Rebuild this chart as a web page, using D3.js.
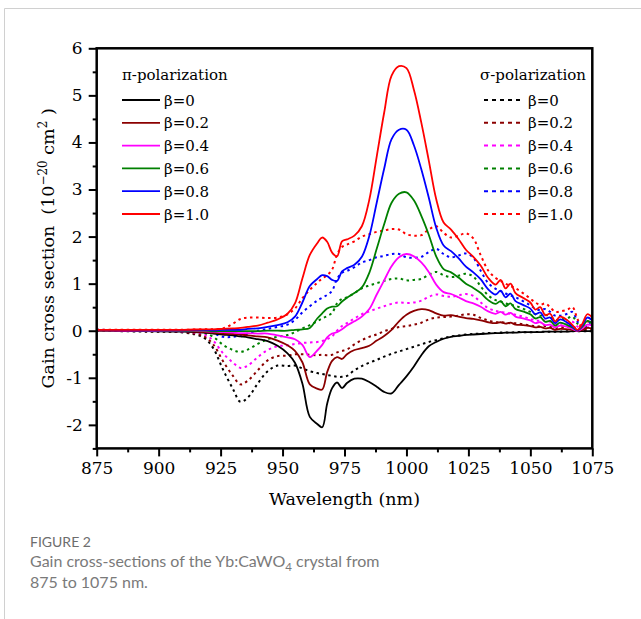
<!DOCTYPE html>
<html>
<head>
<meta charset="utf-8">
<script src="https://cdn.jsdelivr.net/npm/d3@7"></script>
<style>
  body { margin: 0; background: #fff; }
  svg { display: block; }
</style>
</head>
<body>
<svg id="chart" width="641" height="619"></svg>
<script>
// wavelength grid (nm) shared by every curve
const wavelength = [875, 895, 910, 918, 922, 926, 930, 933, 936, 940, 944, 948, 952, 955, 958, 961, 964, 966, 968, 970,
  972, 974, 976, 979, 982, 985, 988, 991, 994, 997, 1000, 1003, 1006, 1009, 1012, 1015, 1018, 1021, 1024, 1027,
  1030, 1033, 1036, 1038, 1040, 1042, 1044, 1047, 1050, 1052, 1054, 1056, 1058, 1060, 1062, 1065, 1067, 1069, 1071, 1073, 1075];

// pi-polarization gain (10^-20 cm^2)
const piB00 = [0, -0.01, -0.02, -0.04, -0.06, -0.08, -0.10, -0.12, -0.14, -0.18, -0.22, -0.32, -0.48, -0.68, -1.12, -1.83, -1.98, -2.05, -1.55, -1.22,
  -1.10, -1.22, -1.11, -1.02, -1.02, -1.09, -1.19, -1.30, -1.33, -1.15, -0.97, -0.76, -0.52, -0.33, -0.24, -0.17, -0.13, -0.11, -0.09, -0.08,
  -0.07, -0.06, -0.05, -0.05, -0.04, -0.04, -0.04, -0.03, -0.03, -0.03, -0.03, -0.02, -0.02, -0.02, -0.02, -0.02, -0.01, -0.01, -0.01, -0.01, -0.01];
const piB02 = [0.00, 0.00, -0.01, -0.03, -0.04, -0.06, -0.07, -0.08, -0.10, -0.12, -0.14, -0.21, -0.31, -0.43, -0.67, -1.14, -1.23, -1.25, -0.88, -0.64,
  -0.56, -0.60, -0.50, -0.41, -0.37, -0.32, -0.21, -0.11, 0.02, 0.20, 0.34, 0.42, 0.46, 0.44, 0.37, 0.32, 0.33, 0.30, 0.27, 0.25,
  0.22, 0.18, 0.16, 0.18, 0.15, 0.17, 0.13, 0.12, 0.10, 0.07, 0.08, 0.05, 0.06, 0.02, 0.04, 0.03, 0.02, 0.00, 0.02, 0.06, 0.05];
const piB04 = [0.01, 0.00, 0.00, -0.01, -0.02, -0.03, -0.04, -0.05, -0.05, -0.06, -0.06, -0.10, -0.14, -0.18, -0.30, -0.56, -0.42, -0.30, -0.14, -0.06,
  -0.03, 0.03, 0.11, 0.20, 0.30, 0.46, 0.77, 1.07, 1.37, 1.56, 1.63, 1.58, 1.45, 1.25, 0.98, 0.82, 0.78, 0.71, 0.63, 0.58,
  0.51, 0.41, 0.36, 0.40, 0.34, 0.38, 0.30, 0.26, 0.22, 0.16, 0.18, 0.12, 0.13, 0.07, 0.11, 0.08, 0.04, 0.00, 0.05, 0.13, 0.11];
const piB06 = [0.01, 0.01, 0.00, 0.00, -0.01, -0.01, -0.01, -0.01, -0.01, -0.01, 0.00, 0.00, 0.00, 0.02, 0.03, 0.06, 0.26, 0.37, 0.47, 0.51,
  0.52, 0.62, 0.70, 0.80, 0.92, 1.23, 1.74, 2.26, 2.72, 2.91, 2.94, 2.77, 2.44, 2.04, 1.58, 1.31, 1.24, 1.13, 1.00, 0.91,
  0.80, 0.65, 0.57, 0.63, 0.52, 0.58, 0.46, 0.41, 0.35, 0.26, 0.29, 0.19, 0.21, 0.11, 0.17, 0.12, 0.07, 0.01, 0.09, 0.21, 0.16];
const piB08 = [0.02, 0.01, 0.01, 0.02, 0.01, 0.02, 0.02, 0.02, 0.04, 0.05, 0.08, 0.12, 0.18, 0.30, 0.60, 0.95, 1.10, 1.18, 1.16, 1.08,
  1.06, 1.26, 1.33, 1.40, 1.57, 2.01, 2.72, 3.44, 4.07, 4.27, 4.27, 3.94, 3.43, 2.83, 2.19, 1.81, 1.69, 1.54, 1.36, 1.24,
  1.09, 0.88, 0.77, 0.85, 0.71, 0.79, 0.63, 0.55, 0.47, 0.35, 0.39, 0.26, 0.28, 0.16, 0.24, 0.17, 0.09, 0.01, 0.12, 0.28, 0.22];
const piB10 = [0.02, 0.02, 0.02, 0.03, 0.03, 0.04, 0.05, 0.06, 0.08, 0.11, 0.17, 0.24, 0.36, 0.58, 1.11, 1.61, 1.86, 1.98, 1.89, 1.66,
  1.58, 1.90, 1.94, 2.02, 2.22, 2.78, 3.70, 4.63, 5.42, 5.62, 5.58, 5.12, 4.42, 3.62, 2.80, 2.30, 2.15, 1.95, 1.72, 1.57,
  1.38, 1.12, 0.98, 1.08, 0.90, 1.00, 0.80, 0.70, 0.60, 0.45, 0.50, 0.33, 0.36, 0.20, 0.30, 0.22, 0.12, 0.02, 0.15, 0.35, 0.28];

// sigma-polarization gain (10^-20 cm^2)
const sgB00 = [0, -0.02, -0.04, -0.14, -0.37, -0.83, -1.24, -1.51, -1.42, -1.12, -0.86, -0.74, -0.75, -0.74, -0.80, -0.86, -0.90, -0.92, -0.94, -0.96,
  -0.98, -0.98, -0.96, -0.84, -0.75, -0.68, -0.62, -0.55, -0.49, -0.44, -0.39, -0.34, -0.29, -0.24, -0.20, -0.16, -0.12, -0.10, -0.08, -0.07,
  -0.06, -0.05, -0.05, -0.04, -0.04, -0.04, -0.03, -0.03, -0.03, -0.03, -0.02, -0.02, -0.02, -0.02, -0.02, -0.01, -0.01, -0.01, -0.01, -0.01, -0.01];
const sgB02 = [0.00, -0.01, -0.03, -0.11, -0.29, -0.65, -0.96, -1.14, -1.06, -0.84, -0.63, -0.54, -0.53, -0.50, -0.50, -0.51, -0.52, -0.51, -0.52, -0.51,
  -0.46, -0.43, -0.40, -0.29, -0.20, -0.13, -0.08, -0.01, 0.04, 0.08, 0.10, 0.13, 0.17, 0.24, 0.28, 0.29, 0.30, 0.32, 0.35, 0.34,
  0.27, 0.22, 0.18, 0.18, 0.17, 0.16, 0.16, 0.14, 0.11, 0.10, 0.09, 0.10, 0.08, 0.06, 0.07, 0.08, 0.09, 0.04, 0.00, 0.03, 0.04];
const sgB04 = [0.01, 0.00, -0.02, -0.07, -0.21, -0.48, -0.68, -0.79, -0.74, -0.56, -0.41, -0.33, -0.31, -0.28, -0.26, -0.25, -0.24, -0.22, -0.18, -0.12,
  0.00, 0.10, 0.16, 0.26, 0.35, 0.41, 0.47, 0.52, 0.57, 0.60, 0.59, 0.60, 0.64, 0.72, 0.77, 0.74, 0.72, 0.75, 0.78, 0.74,
  0.60, 0.48, 0.42, 0.40, 0.38, 0.36, 0.34, 0.30, 0.25, 0.22, 0.21, 0.22, 0.19, 0.15, 0.15, 0.17, 0.19, 0.09, 0.02, 0.07, 0.10];
const sgB06 = [0.01, 0.00, 0.00, -0.04, -0.13, -0.30, -0.41, -0.45, -0.40, -0.28, -0.18, -0.13, -0.09, -0.03, 0.05, 0.12, 0.20, 0.26, 0.31, 0.38,
  0.58, 0.68, 0.71, 0.80, 0.90, 0.96, 1.01, 1.06, 1.10, 1.11, 1.07, 1.08, 1.10, 1.19, 1.25, 1.18, 1.14, 1.17, 1.21, 1.15,
  0.94, 0.75, 0.65, 0.62, 0.58, 0.55, 0.53, 0.47, 0.40, 0.35, 0.32, 0.34, 0.29, 0.23, 0.24, 0.27, 0.30, 0.15, 0.03, 0.10, 0.15];
const sgB08 = [0.02, 0.01, 0.01, 0.00, -0.05, -0.13, -0.13, -0.10, -0.06, 0.00, 0.04, 0.08, 0.13, 0.23, 0.39, 0.52, 0.64, 0.70, 0.76, 0.85,
  1.10, 1.23, 1.27, 1.35, 1.45, 1.50, 1.56, 1.59, 1.63, 1.63, 1.56, 1.55, 1.57, 1.67, 1.74, 1.63, 1.56, 1.60, 1.64, 1.55,
  1.27, 1.01, 0.89, 0.84, 0.79, 0.75, 0.71, 0.63, 0.54, 0.47, 0.44, 0.46, 0.40, 0.32, 0.32, 0.36, 0.40, 0.20, 0.05, 0.14, 0.21];
const sgB10 = [0.02, 0.02, 0.02, 0.03, 0.03, 0.05, 0.15, 0.25, 0.28, 0.28, 0.27, 0.28, 0.35, 0.47, 0.69, 0.87, 1.02, 1.11, 1.18, 1.30,
  1.62, 1.78, 1.83, 1.90, 2.00, 2.05, 2.10, 2.13, 2.16, 2.15, 2.05, 2.02, 2.03, 2.15, 2.22, 2.08, 1.98, 2.02, 2.07, 1.96,
  1.60, 1.28, 1.12, 1.06, 1.00, 0.95, 0.90, 0.80, 0.68, 0.60, 0.55, 0.58, 0.50, 0.40, 0.41, 0.45, 0.50, 0.25, 0.06, 0.18, 0.26];

const betaLabels = ["β=0", "β=0.2", "β=0.4", "β=0.6", "β=0.8", "β=1.0"];
const colors = ["#000000", "#8b0000", "#ff00ff", "#008000", "#0000ff", "#ff0000"];
const xTicks = [875, 900, 925, 950, 975, 1000, 1025, 1050, 1075];
const yTicks = [-2, -1, 0, 1, 2, 3, 4, 5, 6];

const piSeries = [piB00, piB02, piB04, piB06, piB08, piB10];
const sgSeries = [sgB00, sgB02, sgB04, sgB06, sgB08, sgB10];

const svg = d3.select("#chart");
const serif = "'DejaVu Serif', serif";

// light frame around the figure panel
svg.append("path")
    .attr("d", "M4.5,619 V8.5 H641")
    .attr("fill", "none")
    .attr("stroke", "#d0d0d0")
    .attr("stroke-width", 1);

const x = d3.scaleLinear().domain([875, 1075]).range([96.7, 592.3]);
const y = d3.scaleLinear().domain([-2.5, 6]).range([448.4, 48.3]);

svg.append("defs").append("clipPath").attr("id", "plot-clip")
    .append("rect")
    .attr("x", x(875)).attr("y", y(6))
    .attr("width", x(1075) - x(875)).attr("height", y(-2.5) - y(6));

const line = d3.line()
    .x((d, i) => x(wavelength[i]))
    .y(d => y(d))
    .curve(d3.curveCatmullRom.alpha(0.5));

const plot = svg.append("g").attr("clip-path", "url(#plot-clip)");

sgSeries.forEach((s, i) => {
    plot.append("path")
        .datum(s)
        .attr("d", line)
        .attr("fill", "none")
        .attr("stroke", colors[i])
        .attr("stroke-width", 2)
        .attr("stroke-dasharray", "2.5,3.5");
});

piSeries.forEach((s, i) => {
    plot.append("path")
        .datum(s)
        .attr("d", line)
        .attr("fill", "none")
        .attr("stroke", colors[i])
        .attr("stroke-width", 1.8);
});

// axes: major + minor ticks pointing outwards
const fmt = d => d < 0 ? "-" + Math.abs(d) : String(d);

svg.append("g")
    .attr("transform", `translate(${x(875)},0)`)
    .call(d3.axisLeft(y).tickValues(yTicks).tickSize(8).tickPadding(6).tickFormat(fmt));
svg.append("g")
    .attr("transform", `translate(${x(875)},0)`)
    .call(d3.axisLeft(y).tickValues(d3.range(-2.5, 6, 1)).tickSize(4).tickFormat(""));

svg.append("g")
    .attr("transform", `translate(0,${y(-2.5)})`)
    .call(d3.axisBottom(x).tickValues(xTicks).tickSize(8).tickPadding(6).tickFormat(d3.format("d")));
svg.append("g")
    .attr("transform", `translate(0,${y(-2.5)})`)
    .call(d3.axisBottom(x).tickValues(d3.range(887.5, 1075, 25)).tickSize(4).tickFormat(""));

svg.selectAll(".domain").remove();
svg.selectAll(".tick line").attr("stroke", "#000").attr("stroke-width", 2);
svg.selectAll(".tick text")
    .attr("font-family", serif)
    .attr("font-size", "17px")
    .attr("fill", "#000");

// plot box
svg.append("rect")
    .attr("x", x(875)).attr("y", y(6))
    .attr("width", x(1075) - x(875)).attr("height", y(-2.5) - y(6))
    .attr("fill", "none")
    .attr("stroke", "#000")
    .attr("stroke-width", 2.5);

// axis titles
svg.append("text")
    .attr("x", (x(875) + x(1075)) / 2)
    .attr("y", 505)
    .attr("text-anchor", "middle")
    .attr("font-family", serif)
    .attr("font-size", "17.5px")
    .text("Wavelength (nm)");

const yTitle = svg.append("text")
    .attr("transform", `translate(54,${(y(6) + y(-2.5)) / 2}) rotate(-90)`)
    .attr("text-anchor", "middle")
    .attr("font-family", serif)
    .attr("font-size", "17.5px");
yTitle.append("tspan").text("Gain cross section\u00a0\u00a0(10");
yTitle.append("tspan").attr("dy", -7).attr("font-size", "12px").text("\u221220");
yTitle.append("tspan").attr("dy", 7).text(" cm");
yTitle.append("tspan").attr("dy", -7).attr("font-size", "12px").text("2");
yTitle.append("tspan").attr("dy", 7).text("\u00a0)");

// legends
function drawLegend(title, tx, lx0, lx1, dashed) {
    const g = svg.append("g");
    g.append("text")
        .attr("x", tx).attr("y", 80)
        .attr("font-family", serif)
        .attr("font-size", "15px")
        .text(title);
    betaLabels.forEach((lab, i) => {
        const ly = 100 + i * 22.8;
        g.append("line")
            .attr("x1", lx0).attr("x2", lx1)
            .attr("y1", ly).attr("y2", ly)
            .attr("stroke", colors[i])
            .attr("stroke-width", dashed ? 2 : 1.8)
            .attr("stroke-dasharray", dashed ? "4,4" : null);
        g.append("text")
            .attr("x", lx1 + 4).attr("y", ly + 5.5)
            .attr("font-family", serif)
            .attr("font-size", "15px")
            .text(lab);
    });
}
drawLegend("π-polarization", 122, 122, 160, false);
drawLegend("σ-polarization", 480, 484, 524, true);

// caption
const sans = "Lato, 'Open Sans', sans-serif";
svg.append("text")
    .attr("x", 30).attr("y", 547)
    .attr("font-family", sans)
    .attr("font-size", "14px")
    .attr("fill", "#6d6d6d")
    .text("FIGURE 2");
const cap1 = svg.append("text")
    .attr("x", 30).attr("y", 567)
    .attr("font-family", sans)
    .attr("font-size", "16px")
    .attr("fill", "#7a7a7a");
cap1.append("tspan").text("Gain cross-sections of the Yb:CaWO");
cap1.append("tspan").attr("dy", 4).attr("font-size", "11.5px").text("4");
cap1.append("tspan").attr("dy", -4).text(" crystal from");
svg.append("text")
    .attr("x", 30).attr("y", 588)
    .attr("font-family", sans)
    .attr("font-size", "16px")
    .attr("fill", "#7a7a7a")
    .text("875 to 1075 nm.");
</script>
</body>
</html>
